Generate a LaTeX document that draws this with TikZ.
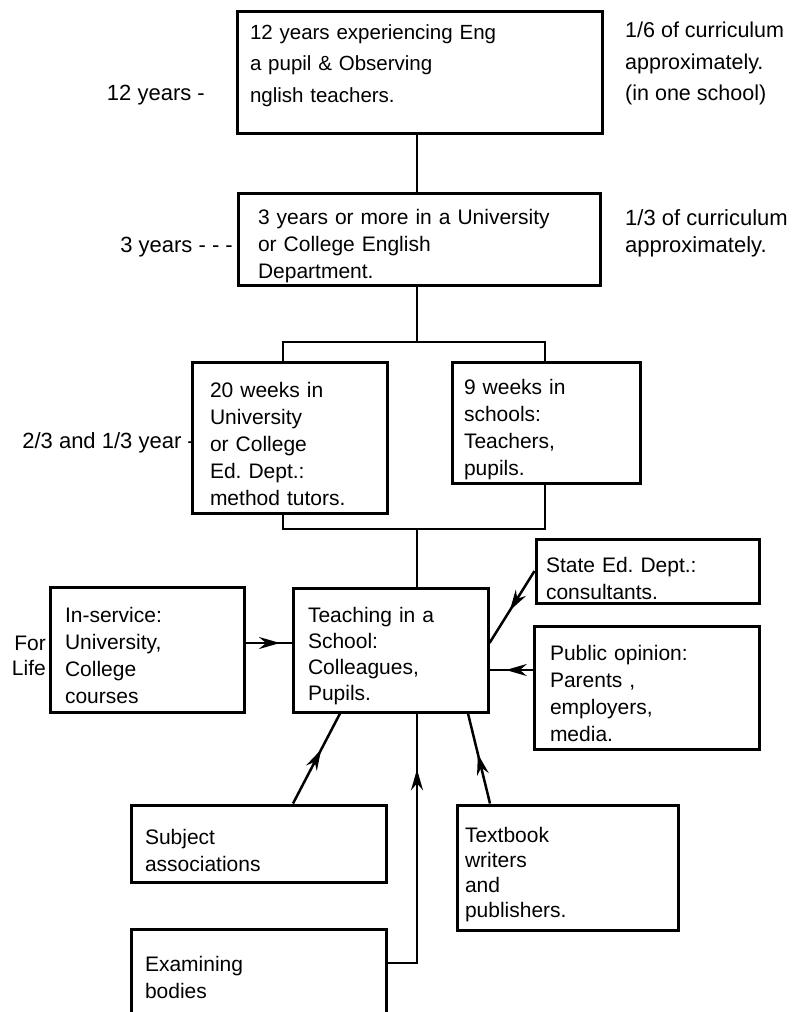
\documentclass[tikz,border=0pt]{standalone}
\usepackage{fontspec}
\setmainfont{Liberation Sans}
\frenchspacing
\usetikzlibrary{arrows.meta, decorations.markings}
\newcommand{\boxfont}{\fontsize{21}{27}\selectfont}
\newcommand{\topfont}{\fontsize{20.5}{31.5}\selectfont}
\newcommand{\notefont}{\fontsize{22}{27}\selectfont}
\tikzset{lift/.style={execute at begin node={\rule{0pt}{#1pt}}},
         tip at/.style={decoration={markings, mark=at position #1 with
           {\arrow{Stealth[length=21pt, width=12pt, inset=7pt]}}}}}
\tikzstyle{box}   = [rectangle, draw, line width=3pt, align=left,
inner xsep=15pt, inner ysep=0pt, font=\boxfont, lift=28]
\tikzstyle{note}  = [align=left, inner sep=0pt, font=\notefont]
\tikzstyle{link}  = [line width=2.5pt]
\tikzstyle{arrow} = [link, postaction={decorate}]

\begin{document}
\begin{tikzpicture}[x=1pt, y=-1pt]
      \useasboundingbox (0,0) rectangle (793,1012);
      \clip (0,0) rectangle (793,1012);

      \node(Yrs)  [box, font=\topfont, inner xsep=13pt, text width=339pt, minimum height=121pt, lift=27] at (419.5,72.5)
                  {12 years experiencing Eng\\a pupil \& Observing\\nglish teachers.\\\mbox{}};
      \node(Uni)  [box, inner xsep=20pt, text width=322pt, minimum height=92pt, lift=30] at (419,239)
                  {3 years or more in a University\\or College English\\Department.};
      \node(EdD)  [box, inner xsep=18pt, text width=159pt, minimum height=151pt, lift=27] at (289.5,437.5)
                  {20 weeks in\\University\\or College\\Ed. Dept.:\\method tutors.};
      \node(Sch)  [box, inner xsep=12pt, text width=164pt, minimum height=121pt, lift=30] at (546,422.5)
                  {9 weeks in\\schools:\\Teachers,\\pupils.};

      \node(Teach)[box, font=\fontsize{21}{26}\selectfont, text width=165pt, minimum height=124pt, lift=16] at (390.5,650)
                  {Teaching in a\\School:\\Colleagues,\\Pupils.};
      \node(St)   [box, inner xsep=10pt, text width=203pt, minimum height=64pt, lift=31] at (647.5,571)
                  {State Ed. Dept.:\\consultants.};
      \node(Svc)  [box, text width=164pt, minimum height=125pt, lift=22] at (147,649.5)
                  {In-service:\\University,\\College\\courses};
      \node(Pub)  [box, inner xsep=16pt, text width=193pt, minimum height=123pt, lift=24] at (646.5,687.5)
                  {Public opinion:\\Parents ,\\employers,\\media.};

      \node(Subj) [box, inner xsep=14pt, text width=227pt, minimum height=77pt, lift=30] at (258.5,843.5)
                  {Subject\\associations};
      \node(Txt)  [box, font=\fontsize{21}{25}\selectfont, inner xsep=8pt, text width=205pt, minimum height=125pt, lift=30] at (567.5,867.5)
                  {Textbook\\writers\\and\\publishers.};
      \node(Exam) [box, inner xsep=14pt, text width=227pt, minimum height=111pt, lift=19] at (258.5,984.5)
                  {Examining\\bodies\\\mbox{}};

      % side notes
      \node(YrsL) [note, anchor=east] at (205,95) {12 years -};
      \node(YrsR) [note, font=\fontsize{21.5}{31.5}\selectfont, anchor=west] at (625,63.5) {1/6 of curriculum\\approximately.\\(in one school)};
      \node(UniL) [note, anchor=east] at (233,247) {3 years - - -};
      \node(UniR) [note, anchor=west] at (625,233.5) {1/3 of curriculum\\approximately.};
      \node(EdDL) [note, anchor=east] at (195,443) {2/3 and 1/3 year -};
      \node(SvcL) [note, align=right, anchor=east, font=\fontsize{21}{25}\selectfont] at (46,655.5) {For\\Life};

      \coordinate (Spine) at (417,0);
      \coordinate (TopL)  at (283,342);
      \coordinate (TopR)  at (545,342);
      \coordinate (BotL)  at (283,529);
      \coordinate (BotR)  at (545,529);
      \coordinate (SvcOut)  at ([yshift=6.5pt]Svc.east);
      \coordinate (PubOut)  at ([yshift=17.5pt]Pub.west);
      \coordinate (ExamOut) at ([yshift=21.5pt]Exam.east);

      \draw [link] (Yrs.south -| Spine) -- (Uni.north -| Spine);
      \draw [link] (Uni.south -| Spine) -- (Spine |- TopL);
      \draw [link] (EdD.north -| TopL) -- (TopL) -- (TopR) -- (Sch.north -| TopR);
      \draw [link] (EdD.south -| BotL) -- (BotL) -- (BotR) -- (Sch.south -| BotR);
      \draw [link] (Spine |- BotL) -- (Teach.north -| Spine);

      \draw [arrow, tip at=0.75] (SvcOut) -- (SvcOut -| Teach.west);
      \draw [arrow, tip at=0.62] (PubOut) -- (PubOut -| Teach.east);
      \draw [arrow, tip at=0.55] (St.west) -- ([yshift=7pt]Teach.east);
      \draw [arrow, tip at=0.6]  ([xshift=34.5pt]Subj.north) -- ([xshift=-50.5pt]Teach.south);
      \draw [arrow, tip at=0.55] ([xshift=-77.5pt]Txt.north) -- ([xshift=77.5pt]Teach.south);
      \draw [arrow, tip at=0.8]  (ExamOut) -| (Teach.south -| Spine);
    \end{tikzpicture}
\end{document}
